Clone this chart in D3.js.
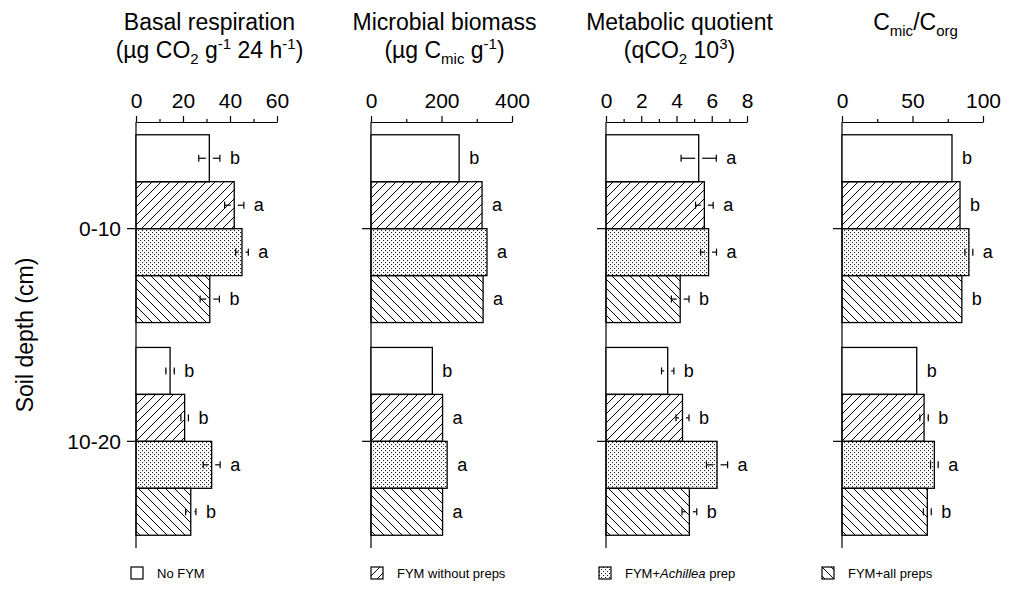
<!DOCTYPE html>
<html>
<head>
<meta charset="utf-8">
<script src="https://cdn.jsdelivr.net/npm/d3@7"></script>
<style>
  body { margin: 0; background: #fff; }
  svg { font-family: "Liberation Sans", Arial, sans-serif; }
</style>
</head>
<body>
<svg id="chart" width="1017" height="610"></svg>
<script>
// treatments and depths
const treatments = ["No FYM", "FYM without preps", "FYM+Achillea prep", "FYM+all preps"];
const depths = ["0-10", "10-20"];

// values: depth 0-10 first (4 treatments), then 10-20
const basalMean = [31.2, 41.8, 45.1, 31.4, 14.5, 20.7, 32.2, 23.3];
const basalSE = [4.5, 4.1, 2.7, 4.1, 1.8, 1.6, 3.6, 2.2];
const basalSig = ["b", "a", "a", "b", "b", "b", "a", "b"];

const biomassMean = [250, 315, 329, 318, 174, 203, 216, 203];
const biomassSE = [0, 0, 0, 0, 0, 0, 0, 0];
const biomassSig = ["b", "a", "a", "a", "b", "a", "a", "a"];

const qco2Mean = [5.26, 5.58, 5.82, 4.21, 3.5, 4.34, 6.3, 4.73];
const qco2SE = [1.0, 0.5, 0.45, 0.5, 0.35, 0.37, 0.6, 0.42];
const qco2Sig = ["a", "a", "a", "b", "b", "b", "a", "b"];

const ratioMean = [78, 83.7, 90, 85, 53, 58.2, 65.5, 60.5];
const ratioSE = [0, 0, 2.8, 0, 0, 3, 2.7, 2.8];
const ratioSig = ["b", "b", "a", "b", "b", "b", "a", "b"];

const basalTicks = [0, 20, 40, 60];
const biomassTicks = [0, 200, 400];
const qco2Ticks = [0, 2, 4, 6, 8];
const ratioTicks = [0, 50, 100];

const panels = [
  {mean: basalMean, se: basalSE, sig: basalSig, ticks: basalTicks, minor: [10, 30, 50], max: 60,
   title: [[["Basal respiration"]], [["(µg CO"], ["2", "sub"], [" g"], ["-1", "sup"], [" 24 h"], ["-1", "sup"], [")"]]]},
  {mean: biomassMean, se: biomassSE, sig: biomassSig, ticks: biomassTicks, minor: [100, 300], max: 400,
   title: [[["Microbial biomass"]], [["(µg C"], ["mic", "sub"], [" g"], ["-1", "sup"], [")"]]]},
  {mean: qco2Mean, se: qco2SE, sig: qco2Sig, ticks: qco2Ticks, minor: [1, 3, 5, 7], max: 8,
   title: [[["Metabolic quotient"]], [["(qCO"], ["2", "sub"], [" 10"], ["3", "sup"], [")"]]]},
  {mean: ratioMean, se: ratioSE, sig: ratioSig, ticks: ratioTicks, minor: [25, 75], max: 100,
   title: [[["C"], ["mic", "sub"], ["/C"], ["org", "sub"]]]}
];

const panelLeft = [136, 371, 606, 842];
const panelWidth = 141;
const plotTop = 122, plotBottom = 548;

const svg = d3.select("#chart");
const defs = svg.append("defs");

// fill patterns
const fwd = defs.append("pattern").attr("id", "fwd").attr("patternUnits", "userSpaceOnUse")
  .attr("width", 9).attr("height", 9);
fwd.append("path").attr("d", "M-1,1 l2,-2 M0,9 l9,-9 M8,10 l2,-2")
  .attr("stroke", "#000").attr("stroke-width", 1);

const back = defs.append("pattern").attr("id", "back").attr("patternUnits", "userSpaceOnUse")
  .attr("width", 9).attr("height", 9);
back.append("path").attr("d", "M-1,8 l2,2 M0,0 l9,9 M8,-1 l2,2")
  .attr("stroke", "#000").attr("stroke-width", 1);

const dots = defs.append("pattern").attr("id", "dots").attr("patternUnits", "userSpaceOnUse")
  .attr("width", 4).attr("height", 4);
dots.append("rect").attr("x", 0).attr("y", 0).attr("width", 1.1).attr("height", 1.1).attr("fill", "#222");
dots.append("rect").attr("x", 2).attr("y", 2).attr("width", 1.1).attr("height", 1.1).attr("fill", "#222");

const fills = ["#fff", "url(#fwd)", "url(#dots)", "url(#back)"];

const yGroup = d3.scaleBand().domain(depths).range([plotTop, plotBottom])
  .paddingInner(0.117).paddingOuter(0.06);
const yBar = d3.scaleBand().domain(treatments).range([0, yGroup.bandwidth()]);

function richText(sel, parts) {
  let shift = 0;
  parts.forEach(function (p) {
    let target = p[1] === "sub" ? 6 : p[1] === "sup" ? -9 : 0;
    sel.append("tspan")
      .attr("dy", target - shift)
      .attr("font-size", p[1] ? 15 : null)
      .text(p[0]);
    shift = target;
  });
}

panels.forEach(function (p, i) {
  const x0 = panelLeft[i];
  const g = svg.append("g").attr("transform", `translate(${x0},0)`);
  const x = d3.scaleLinear().domain([0, p.max]).range([0, panelWidth]);

  // titles
  p.title.forEach(function (line, k) {
    const t = g.append("text")
      .attr("x", panelWidth / 2 + 3)
      .attr("y", 30 + k * 28)
      .attr("text-anchor", "middle")
      .attr("font-size", 23);
    richText(t, line);
  });

  // top axis
  g.append("g")
    .attr("transform", `translate(0,${plotTop})`)
    .call(d3.axisTop(x).tickValues(p.minor).tickSize(3).tickFormat(""))
    .call(a => a.select(".domain").remove())
    .call(a => a.selectAll("line").attr("stroke-width", 1.2));
  g.append("g")
    .attr("transform", `translate(0,${plotTop})`)
    .call(d3.axisTop(x).tickValues(p.ticks).tickSize(6).tickPadding(8).tickSizeOuter(0))
    .call(a => a.selectAll("text").attr("font-size", 21).attr("font-family", "Liberation Sans, Arial"))
    .call(a => a.select(".domain").attr("stroke-width", 1.2))
    .call(a => a.selectAll("line").attr("stroke-width", 1.2));

  // left axis
  g.append("line").attr("x1", 0).attr("x2", 0).attr("y1", plotTop).attr("y2", plotBottom)
    .attr("stroke", "#000").attr("stroke-width", 1.2);
  g.selectAll(".ytick").data(depths).join("line")
    .attr("class", "ytick")
    .attr("x1", -9).attr("x2", 0)
    .attr("y1", d => yGroup(d) + yGroup.bandwidth() / 2)
    .attr("y2", d => yGroup(d) + yGroup.bandwidth() / 2)
    .attr("stroke", "#000").attr("stroke-width", 1.2);
  if (i === 0) {
    g.selectAll(".ylab").data(depths).join("text")
      .attr("class", "ylab")
      .attr("x", -15)
      .attr("y", d => yGroup(d) + yGroup.bandwidth() / 2)
      .attr("text-anchor", "end")
      .attr("dominant-baseline", "central")
      .attr("font-size", 21)
      .text(d => d);
  }

  const rows = [];
  depths.forEach(function (d, di) {
    treatments.forEach(function (t, ti) {
      const k = di * 4 + ti;
      rows.push({depth: d, trt: t, ti: ti, mean: p.mean[k], se: p.se[k], sig: p.sig[k]});
    });
  });
  const yc = d => yGroup(d.depth) + yBar(d.trt);

  g.selectAll(".bar").data(rows).join("rect")
    .attr("class", "bar")
    .attr("x", 0)
    .attr("y", yc)
    .attr("width", d => x(d.mean))
    .attr("height", yBar.bandwidth())
    .attr("fill", d => fills[d.ti])
    .attr("stroke", "#000")
    .attr("stroke-width", 1.3);

  // error bars
  const eb = rows.filter(d => d.se > 0);
  const gap = 3.5;
  eb.forEach(function (d) {
    const cy = yc(d) + yBar.bandwidth() / 2;
    const lo = x(d.mean - d.se), hi = x(d.mean + d.se), m = x(d.mean);
    const segs = [];
    if (m - gap > lo) segs.push([lo, m - gap]);
    if (hi > m + gap) segs.push([m + gap, hi]);
    segs.forEach(s => g.append("line").attr("x1", s[0]).attr("x2", s[1]).attr("y1", cy).attr("y2", cy)
      .attr("stroke", "#000").attr("stroke-width", 1.2));
    [lo, hi].forEach(v => g.append("line").attr("x1", v).attr("x2", v)
      .attr("y1", cy - 3.5).attr("y2", cy + 3.5).attr("stroke", "#000").attr("stroke-width", 1.2));
  });

  g.selectAll(".sig").data(rows).join("text")
    .attr("class", "sig")
    .attr("x", d => x(d.mean + d.se) + 10)
    .attr("y", d => yc(d) + yBar.bandwidth() / 2)
    .attr("dominant-baseline", "central")
    .attr("font-size", 18)
    .text(d => d.sig);
});

// y axis title
svg.append("text")
  .attr("transform", "translate(33,335) rotate(-90)")
  .attr("text-anchor", "middle")
  .attr("font-size", 23)
  .text("Soil depth (cm)");

// legend
const legendX = [131, 371, 599, 822];
const lg = svg.selectAll(".leg").data(treatments).join("g")
  .attr("class", "leg")
  .attr("transform", (d, i) => `translate(${legendX[i]},567)`);
lg.append("rect").attr("width", 12).attr("height", 12)
  .attr("fill", (d, i) => fills[i]).attr("stroke", "#000").attr("stroke-width", 1.2);
const lt = lg.append("text").attr("x", 26).attr("y", 11).attr("font-size", 13);
lt.each(function (d) {
  const t = d3.select(this);
  if (d === "FYM+Achillea prep") {
    t.append("tspan").text("FYM+");
    t.append("tspan").attr("font-style", "italic").text("Achillea");
    t.append("tspan").text(" prep");
  } else {
    t.text(d);
  }
});
</script>
</body>
</html>
